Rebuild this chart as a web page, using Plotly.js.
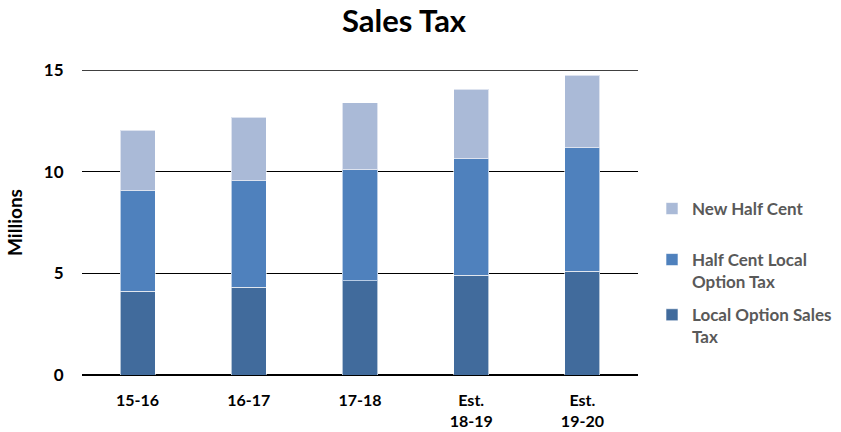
<!DOCTYPE html>
<html><head><meta charset="utf-8">
<script src="https://cdn.plot.ly/plotly-3.0.1.min.js"></script>
<style>html,body{margin:0;padding:0;background:#fff}</style>
</head><body><div id="c" style="width:841px;height:432px"></div>
<script>
var categories = ["15-16", "16-17", "17-18", "Est.<br>18-19", "Est.<br>19-20"];
var localOptionSalesTax = [4.13, 4.32, 4.63, 4.90, 5.11];
var halfCentLocalOption = [4.94, 5.24, 5.47, 5.74, 6.07];
var newHalfCent = [2.97, 3.11, 3.28, 3.41, 3.57];
var tickVals = [0, 5, 10, 15];

var F = "Lato, 'Open Sans', sans-serif";
function tr(name, y, color, g, rank, lg) {
  return {type: 'bar', name: name, x: categories, y: y, width: 0.315, legendgroup: g, legendrank: rank,
    legend: lg, marker: {color: color, line: {color: 'rgba(255,255,255,0.6)', width: 1}}};
}
var data = [
  tr('Local Option Sales<br>Tax', localOptionSalesTax, '#416B9C', 'a', 3, 'legend'),
  tr('Half Cent Local<br>Option Tax', halfCentLocalOption, '#4F81BD', 'b', 2, 'legend'),
  tr('New Half Cent', newHalfCent, '#AABAD7', 'c', 1, 'legend2')
];
var legFont = {size: 17, family: F, color: '#595959', weight: 'bold'};
var layout = {
  width: 841, height: 432, barmode: 'stack',
  margin: {l: 82, r: 203, t: 70, b: 57, autoexpand: false},
  paper_bgcolor: '#fff', plot_bgcolor: '#fff',
  font: {family: F, color: '#000'},
  title: {text: 'Sales Tax', x: 404/841, xanchor: 'center', y: 0.95, yanchor: 'middle',
          font: {size: 31, family: F, color: '#000', weight: 'bold'}},
  xaxis: {type: 'category', showgrid: false, ticks: 'outside', ticklen: 11, tickcolor: 'rgba(0,0,0,0)',
          showline: false, automargin: false, tickfont: {size: 16, family: F, color: '#000', weight: 'bold'}},
  yaxis: {range: [0, 15], tickvals: tickVals, showgrid: true, gridcolor: '#000', gridwidth: 1.3,
          zeroline: true, zerolinecolor: '#000', zerolinewidth: 2.5, showline: false,
          ticks: 'outside', ticklen: 14, tickcolor: 'rgba(0,0,0,0)', automargin: false,
          tickfont: {size: 17, family: F, color: '#000', weight: 'bold'},
          title: {text: 'Millions', font: {size: 19, family: F, color: '#000', weight: 'bold'}, standoff: 16}},
  legend: {xref: 'container', x: 652/841, xanchor: 'left', yref: 'container', y: 1 - 242/432, yanchor: 'top',
           traceorder: 'grouped', valign: 'top', font: legFont, itemwidth: 30, tracegroupgap: 8},
  legend2: {xref: 'container', x: 652/841, xanchor: 'left', yref: 'container', y: 1 - 191/432, yanchor: 'top',
           valign: 'top', font: legFont, itemwidth: 30},
  shapes: [{type: 'line', xref: 'paper', yref: 'y', x0: 0, x1: 1, y0: 15, y1: 15,
            line: {color: '#000', width: 1.3}}],
  showlegend: true
};
Plotly.newPlot('c', data, layout, {displayModeBar: false, staticPlot: true});
</script></body></html>
